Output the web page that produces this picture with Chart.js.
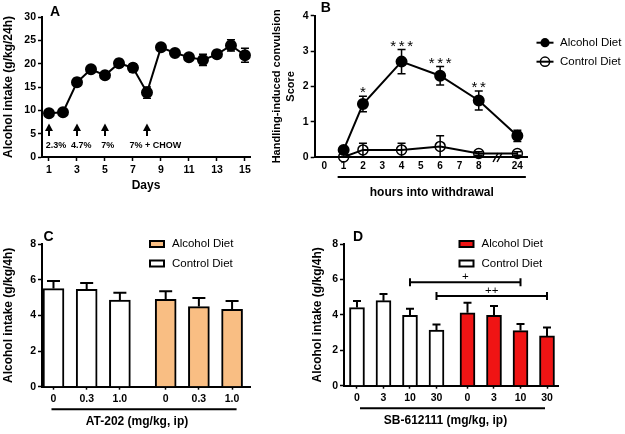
<!DOCTYPE html>
<html><head><meta charset="utf-8">
<script src="https://cdn.jsdelivr.net/npm/chart.js@4.4.1/dist/chart.umd.min.js"></script>
<style>
html,body{margin:0;padding:0;background:#fff;}
#wrap{position:relative;width:625px;height:434px;overflow:hidden;background:#fff;}
canvas{position:absolute;}
</style></head><body>
<div id="wrap">
<canvas id="cA" width="262" height="215" style="left:0;top:0"></canvas>
<canvas id="cB" width="363" height="215" style="left:262px;top:0"></canvas>
<canvas id="cC" width="300" height="219" style="left:0;top:215px"></canvas>
<canvas id="cD" width="325" height="219" style="left:300px;top:215px"></canvas>
</div>
<script>
// ===== Data =====
// Panel A
const daysA = [1,2,3,4,5,6,7,8,9,10,11,12,13,14,15];
const intakeA = [9.4,9.6,16.0,18.8,17.5,20.1,19.1,13.8,23.5,22.3,21.4,20.8,22.0,23.9,21.8];
const intakeErrA = [0.4,0.5,0.8,0.6,0.6,0.8,0.9,1.2,0.4,0.6,0.6,1.2,0.8,1.2,1.5];
const dayTicksA = [1,3,5,7,9,11,13,15];
const arrowDaysA = [1,3,5,8];
const arrowLabelsA = ['2.3%','4.7%','7%','7% + CHOW'];
const arrowLabelDaysA = [1.5,3.3,5.2,8.6];

// Panel B
const hourLabelsB = ['0','1','2','3','4','5','6','7','8','','24'];
const hoursB = ['1','2','4','6','8','24'];
const alcoholB = [0.2,1.5,2.7,2.3,1.6,0.6];
const alcoholErrB = [0.04,0.22,0.34,0.26,0.27,0.16];
const controlB = [0.0,0.2,0.2,0.3,0.1,0.1];
const controlErrB = [0.0,0.19,0.19,0.3,0.05,0.05];
const starsB = ['','*','***','***','**',''];

// Panel C
const dosesC = ['0','0.3','1.0'];
const controlC = [5.5,5.46,4.86];
const controlErrC = [0.43,0.35,0.41];
const alcoholC = [4.9,4.49,4.34];
const alcoholErrC = [0.45,0.48,0.46];

// Panel D
const dosesD = ['0','3','10','30'];
const controlD = [4.41,4.80,3.97,3.14];
const controlErrD = [0.37,0.38,0.38,0.31];
const alcoholD = [4.12,3.97,3.11,2.81];
const alcoholErrD = [0.57,0.53,0.37,0.47];
const bracketsD = [
  {from:2, to:6, level:5.84, label:'+'},
  {from:3, to:7, level:5.07, label:'++'}
];

// ===== Styles =====
const FONT = "'Liberation Sans', Arial, Helvetica, sans-serif";
Chart.defaults.font.family = FONT;
Chart.defaults.color = '#000';
const ORANGE = '#F9BE83';
const RED = '#F01414';
function fnt(size, weight){ return (weight||'normal') + ' ' + size + 'px ' + FONT; }

function yAxis(min,max,step,width,text,size,padTop,lh){
  return {
    min:min, max:max,
    ticks:{stepSize:step, font:{size:10.5, weight:'bold'}, color:'#000', padding:2},
    grid:{display:true, drawOnChartArea:false, drawTicks:true, tickLength:4, tickWidth:1.5, tickColor:'#000'},
    border:{display:true, color:'#000', width:2},
    title:{display:true, text:text, color:'#000', font:{size:size, weight:'bold', lineHeight:lh||1.2}, padding:{top:padTop,bottom:0}},
    afterFit: s => { s.width = width; }
  };
}
function errSym(ctx,x,yLo,yHi,cap){
  ctx.beginPath();
  ctx.moveTo(x,yLo); ctx.lineTo(x,yHi);
  ctx.moveTo(x-cap/2,yHi); ctx.lineTo(x+cap/2,yHi);
  ctx.moveTo(x-cap/2,yLo); ctx.lineTo(x+cap/2,yLo);
  ctx.stroke();
}
function errUp(ctx,x,yBase,yHi,cap){
  ctx.beginPath();
  ctx.moveTo(x,yBase); ctx.lineTo(x,yHi);
  ctx.moveTo(x-cap/2,yHi); ctx.lineTo(x+cap/2,yHi);
  ctx.stroke();
}
function spacedText(ctx,t,cx,y,step){
  const n = t.length;
  for(let k=0;k<n;k++){ ctx.fillText(t[k], cx + (k-(n-1)/2)*step, y); }
}
function letter(ctx,t,x,y){
  ctx.save(); ctx.font=fnt(14,'bold'); ctx.fillStyle='#000';
  ctx.textAlign='center'; ctx.textBaseline='middle'; ctx.fillText(t,x,y); ctx.restore();
}
const common = {responsive:false, animation:false, devicePixelRatio:1,
  plugins:{legend:{display:false}, tooltip:{enabled:false}}};

// ===== Panel A =====
new Chart(document.getElementById('cA'), {
  type:'line',
  data:{datasets:[{
    label:'Alcohol intake',
    data: daysA.map((d,i)=>({x:d, y:intakeA[i]})),
    borderColor:'#000', borderWidth:2, pointRadius:5, pointBackgroundColor:'#000',
    pointBorderColor:'#000', tension:0, clip:false
  }]},
  options:Object.assign({}, common, {
    layout:{padding:{left:0, top:17, right:12, bottom:0}},
    scales:{
      x:{type:'linear', min:0.5, max:15.36,
        afterBuildTicks: s => { s.ticks = dayTicksA.map(v=>({value:v})); },
        afterFit: s => { s.height = 58; },
        ticks:{font:{size:10.5, weight:'bold'}, color:'#000', padding:3, maxRotation:0, autoSkip:false},
        grid:{display:true, drawOnChartArea:false, drawTicks:true, tickLength:4, tickWidth:1.5, tickColor:'#000'},
        border:{display:true, color:'#000', width:2},
        title:{display:true, text:'Days', color:'#000', font:{size:12, weight:'bold'}, padding:{top:0,bottom:22}}
      },
      y: yAxis(0,30,5,42,'Alcohol intake (g/kg/24h)',12,1.8)
    }
  }),
  plugins:[{
    id:'annA',
    beforeDatasetsDraw(chart){
      const {ctx, scales:{x,y}} = chart;
      ctx.save(); ctx.strokeStyle='#000'; ctx.lineWidth=1.5;
      daysA.forEach((d,i)=>{
        errSym(ctx, x.getPixelForValue(d), y.getPixelForValue(intakeA[i]-intakeErrA[i]), y.getPixelForValue(intakeA[i]+intakeErrA[i]), 8);
      });
      ctx.restore();
    },
    afterDraw(chart){
      const {ctx, chartArea, scales:{x,y}} = chart;
      ctx.save();
      ctx.fillStyle='#000'; ctx.strokeStyle='#000'; ctx.lineWidth=2;
      arrowDaysA.forEach(d=>{
        const px = x.getPixelForValue(d);
        const yTip = y.getPixelForValue(7.2), yBot = y.getPixelForValue(4.5);
        ctx.beginPath(); ctx.moveTo(px,yBot); ctx.lineTo(px,yTip+5); ctx.stroke();
        ctx.beginPath(); ctx.moveTo(px,yTip); ctx.lineTo(px-4,yTip+7.5); ctx.lineTo(px+4,yTip+7.5); ctx.closePath(); ctx.fill();
      });
      ctx.font = fnt(9,'bold'); ctx.textAlign='center'; ctx.textBaseline='middle';
      arrowLabelsA.forEach((t,i)=>{
        ctx.fillText(t, x.getPixelForValue(arrowLabelDaysA[i]), y.getPixelForValue(2.55));
      });
      ctx.restore();
      letter(ctx,'A',chartArea.left+13,chartArea.top-5);
    }
  }]
});

// ===== Panel B =====
new Chart(document.getElementById('cB'), {
  type:'line',
  data:{labels:hourLabelsB, datasets:[
    {label:'Alcohol Diet', data:hoursB.map((h,i)=>({x:h,y:alcoholB[i]})),
     borderColor:'#000', borderWidth:2, pointRadius:5, pointBackgroundColor:'#000', pointBorderColor:'#000', tension:0, clip:false},
    {label:'Control Diet', data:hoursB.map((h,i)=>({x:h,y:controlB[i]})),
     borderColor:'#000', borderWidth:2, pointRadius:5, pointBorderWidth:1.5, pointBackgroundColor:'rgba(0,0,0,0)', pointBorderColor:'#000', tension:0, clip:false}
  ]},
  options:Object.assign({}, common, {
    layout:{padding:{left:0, top:15.7, right:98, bottom:0}},
    scales:{
      x:{type:'category', offset:true,
        afterFit: s => { s.height = 58; },
        ticks:{font:{size:10, weight:'bold'}, color:'#000', padding:3, maxRotation:0, autoSkip:false},
        grid:{display:false, drawTicks:false, offset:true},
        border:{display:true, color:'#000', width:2}
      },
      y: yAxis(0,4,1,52.7,['Handling-induced convulsion','Score'],11,8,1.27)
    }
  }),
  plugins:[{
    id:'annB',
    beforeDatasetsDraw(chart){
      const {ctx, scales:{x,y}} = chart;
      ctx.save(); ctx.strokeStyle='#000'; ctx.lineWidth=1.5;
      [[alcoholB,alcoholErrB],[controlB,controlErrB]].forEach(([v,e])=>{
        hoursB.forEach((h,i)=>{
          if(!e[i]) return;
          errSym(ctx, x.getPixelForValue(hourLabelsB.indexOf(h)), y.getPixelForValue(v[i]-e[i]), y.getPixelForValue(v[i]+e[i]), 8);
        });
      });
      ctx.restore();
    },
    afterDraw(chart){
      const {ctx, chartArea, scales:{x,y}} = chart;
      ctx.save();
      // significance stars
      ctx.font = fnt(15,'normal'); ctx.fillStyle='#000'; ctx.textAlign='center'; ctx.textBaseline='alphabetic';
      hoursB.forEach((h,i)=>{
        if(!starsB[i]) return;
        spacedText(ctx, starsB[i], x.getPixelForValue(hourLabelsB.indexOf(h)), y.getPixelForValue(alcoholB[i]+alcoholErrB[i]) + 1, 8.5);
      });
      // axis break marks
      const bx = x.getPixelForValue(hourLabelsB.indexOf('')), by = chartArea.bottom;
      ctx.strokeStyle='#000'; ctx.lineWidth=1.5;
      [-2.5,1.5].forEach(o=>{
        ctx.beginPath(); ctx.moveTo(bx+o-2.5, by+5); ctx.lineTo(bx+o+2.5, by-4); ctx.stroke();
      });
      // group underline and title
      const x1 = x.getPixelForValue(1) - 6, x2 = x.getPixelForValue(10) + 8.5, uy = chartArea.bottom + 20;
      ctx.lineWidth=2; ctx.beginPath(); ctx.moveTo(x1,uy); ctx.lineTo(x2,uy); ctx.stroke();
      ctx.font = fnt(12,'bold'); ctx.textBaseline='middle'; ctx.textAlign='center';
      ctx.fillText('hours into withdrawal', (x1+x2)/2, chartArea.bottom + 36);
      // legend
      const lx = chartArea.right + 18, ly = [42.7, 61.7];
      chart.data.datasets.forEach((ds,i)=>{
        ctx.strokeStyle='#000'; ctx.lineWidth=2;
        ctx.beginPath(); ctx.moveTo(lx-8.5, ly[i]); ctx.lineTo(lx+8.5, ly[i]); ctx.stroke();
        ctx.beginPath(); ctx.arc(lx, ly[i], 4.6, 0, Math.PI*2);
        if(i===0){ ctx.fillStyle='#000'; ctx.fill(); } else { ctx.lineWidth=1.5; ctx.stroke(); }
        ctx.fillStyle='#000'; ctx.font=fnt(11.5,'normal'); ctx.textAlign='left'; ctx.textBaseline='middle';
        ctx.fillText(ds.label, lx+15, ly[i]);
      });
      ctx.restore();
      letter(ctx,'B',chartArea.left+11,chartArea.top-7.5);
    }
  }]
});

// ===== Bar panels =====
function barPanel(id, opts){
  const n = opts.doses.length;
  const posCtrl = opts.doses.map((d,i)=>i);
  const posAlc = opts.doses.map((d,i)=>i + n - 1 + opts.gap);
  const allPos = posCtrl.concat(posAlc);
  const allLabels = opts.doses.concat(opts.doses);
  return new Chart(document.getElementById(id), {
    type:'bar',
    data:{datasets:[
      {label:'Control Diet', data:posCtrl.map((p,i)=>({x:p,y:opts.ctrl[i]})), err:opts.ctrlErr,
       backgroundColor:'#fff', borderColor:'#000', borderWidth:2, barThickness:opts.barW, grouped:false},
      {label:'Alcohol Diet', data:posAlc.map((p,i)=>({x:p,y:opts.alc[i]})), err:opts.alcErr,
       backgroundColor:opts.color, borderColor:'#000', borderWidth:2, barThickness:opts.barW, grouped:false}
    ]},
    options:Object.assign({}, common, {
      layout:{padding:{left:0, top:29, right:opts.padRight, bottom:0}},
      scales:{
        x:{type:'linear', min:opts.xmin, max:opts.xmax, offset:false,
          afterBuildTicks: s => { s.ticks = allPos.map(v=>({value:v})); },
          afterFit: s => { s.height = opts.xh; },
          ticks:{font:{size:10.5, weight:'bold'}, color:'#000', padding:3, maxRotation:0, autoSkip:false,
                 callback:(v,i)=>allLabels[i]},
          grid:{display:true, offset:false, drawOnChartArea:false, drawTicks:true, tickLength:3, tickWidth:1.5, tickColor:'#000'},
          border:{display:true, color:'#000', width:2}
        },
        y: yAxis(0,8,2,opts.yw,'Alcohol intake (g/kg/4h)',12,opts.ytPad)
      }
    }),
    plugins:[{
      id:'ann'+id,
      afterDatasetsDraw(chart){
        const {ctx, scales:{y}} = chart;
        ctx.save(); ctx.strokeStyle='#000'; ctx.lineWidth=2;
        chart.data.datasets.forEach((ds,di)=>{
          chart.getDatasetMeta(di).data.forEach((el,i)=>{
            errUp(ctx, el.x, el.y, y.getPixelForValue(ds.data[i].y + ds.err[i]), opts.cap);
          });
        });
        ctx.restore();
      },
      afterDraw(chart){
        const {ctx, chartArea, scales:{x,y}} = chart;
        ctx.save(); ctx.strokeStyle='#000'; ctx.fillStyle='#000';
        // brackets
        (opts.brackets||[]).forEach(b=>{
          const xa = x.getPixelForValue(allPos[b.from]), xb = x.getPixelForValue(allPos[b.to]), by = y.getPixelForValue(b.level);
          ctx.lineWidth=2; ctx.beginPath();
          ctx.moveTo(xa,by); ctx.lineTo(xb,by);
          ctx.moveTo(xa,by-4); ctx.lineTo(xa,by+4);
          ctx.moveTo(xb,by-4); ctx.lineTo(xb,by+4);
          ctx.stroke();
          ctx.font=fnt(11.5,'normal'); ctx.textAlign='center'; ctx.textBaseline='alphabetic';
          ctx.fillText(b.label, (xa+xb)/2, by-2);
        });
        // group underline and title
        const x1 = x.getPixelForValue(allPos[0]) + opts.ul[0], x2 = x.getPixelForValue(allPos[allPos.length-1]) + opts.ul[1];
        const uy = chartArea.bottom + 22.5;
        ctx.lineWidth=2; ctx.beginPath(); ctx.moveTo(x1,uy); ctx.lineTo(x2,uy); ctx.stroke();
        ctx.font=fnt(12,'bold'); ctx.textAlign='center'; ctx.textBaseline='middle';
        ctx.fillText(opts.title, (x1+x2)/2 - 7, chartArea.bottom + 35);
        // legend
        const lx = opts.legendX, ly = [29, 48.5];
        [1,0].forEach((di,k)=>{
          const ds = chart.data.datasets[di];
          ctx.fillStyle = ds.backgroundColor; ctx.fillRect(lx, ly[k]-3, 14, 6);
          ctx.lineWidth=2; ctx.strokeStyle='#000'; ctx.strokeRect(lx, ly[k]-3, 14, 6);
          ctx.fillStyle='#000'; ctx.font=fnt(11.5,'normal'); ctx.textAlign='left'; ctx.textBaseline='middle';
          ctx.fillText(ds.label, lx+22, ly[k]);
        });
        ctx.restore();
        letter(ctx, opts.letter, chartArea.left + opts.letterDx, chartArea.top - 7.3);
      }
    }]
  });
}

barPanel('cC', {doses:dosesC, ctrl:controlC, ctrlErr:controlErrC, alc:alcoholC, alcErr:alcoholErrC,
  gap:1.38, barW:21, cap:13, color:ORANGE, xmin:-0.346, xmax:5.92, xh:47.3, yw:42, ytPad:1.8, padRight:50,
  ul:[-2,4.5], title:'AT-202 (mg/kg, ip)', legendX:150, letter:'C', letterDx:6.5});

barPanel('cD', {doses:dosesD, ctrl:controlD, ctrlErr:controlErrD, alc:alcoholD, alcErr:alcoholErrD,
  gap:1.17, barW:15, cap:8, color:RED, xmin:-0.49, xmax:7.585, xh:48.3, yw:44, ytPad:10.3, padRight:67,
  ul:[3,-2], title:'SB-612111 (mg/kg, ip)', legendX:159.5, letter:'D', letterDx:14, brackets:bracketsD});
</script>
</body></html>
